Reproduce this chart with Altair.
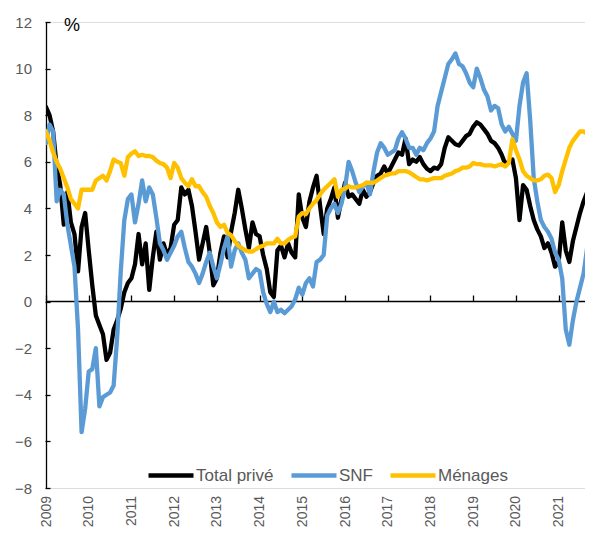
import altair as alt
import pandas as pd

# ---------------- data (monthly, Jan 2009 = month 0) ----------------
series_names = ["Total privé", "SNF", "Ménages"]
series_colors = ["#000000", "#5B9BD5", "#FFC000"]
year_ticks = list(range(2009, 2022))
y_ticks = list(range(-8, 13, 2))

total_prive = [
    8.35, 8.0, 7.3, 5.8, 5.0, 3.3, 4.7, 3.4, 2.9, 1.3, 3.2, 3.8,        # 2009
    2.2, 0.7, -0.6, -1.0, -1.4, -2.5, -2.2, -1.2, -0.8, -0.3, 0.4, 0.8,  # 2010
    1.0, 1.6, 2.9, 1.6, 2.5, 0.5, 1.9, 3.0, 1.8, 2.5, 2.0, 2.3,          # 2011
    3.3, 3.5, 4.9, 4.6, 4.8, 4.1, 3.0, 1.8, 2.5, 3.2, 2.1, 0.7,          # 2012
    1.0, 2.1, 2.8, 1.9, 3.0, 3.8, 4.8, 4.0, 3.1, 2.3, 3.4, 2.9,          # 2013
    2.8, 2.0, 1.4, 0.4, 0.2, 2.2, 2.4, 1.9, 2.5, 2.1, 1.9, 4.6,          # 2014
    3.6, 3.2, 4.3, 4.9, 5.4, 4.1, 2.9, 4.0, 4.4, 4.9, 3.6, 4.4,          # 2015
    5.1, 4.5, 4.6, 4.4, 4.2, 4.8, 4.5, 4.7, 5.1, 5.4, 5.5, 5.8,          # 2016
    5.5, 5.8, 6.1, 6.4, 6.3, 7.0, 5.9, 6.1, 6.0, 6.2, 5.9, 5.7,          # 2017
    5.6, 5.75, 5.7, 5.9, 6.6, 7.05, 6.9, 6.75, 6.7, 6.9, 7.1, 7.2,       # 2018
    7.5, 7.7, 7.6, 7.4, 7.2, 6.9, 6.8, 6.6, 6.3, 5.9, 6.0, 6.1,          # 2019
    5.3, 3.5, 5.0, 4.8, 4.1, 3.5, 3.1, 2.8, 2.3, 2.5, 2.1, 1.5,          # 2020
    1.7, 3.4, 2.2, 1.7, 2.6, 3.2, 3.8, 4.3, 4.7, 3.6,                    # 2021
]

snf = [
    6.8, 7.6, 7.3, 4.3, 4.8, 4.6, 3.3, 2.4, 1.5, -1.2, -5.6, -4.6,       # 2009
    -3.0, -2.9, -2.0, -4.5, -4.1, -4.0, -3.9, -3.6, -1.5, 1.3, 3.5, 4.4, # 2010
    4.6, 3.4, 4.2, 5.2, 4.3, 4.9, 4.6, 3.6, 2.5, 2.2, 1.8, 2.1,          # 2011
    2.4, 2.8, 3.0, 2.3, 1.7, 1.5, 1.2, 0.8, 1.2, 1.7, 2.1, 1.5,          # 2012
    1.0, 1.6, 2.3, 2.8, 1.5, 2.2, 2.5, 2.1, 1.8, 1.0, 1.2, 1.4,          # 2013
    1.3, 0.4, -0.1, -0.45, 0.0, -0.45, -0.35, -0.5, -0.35, -0.2, 0.1, 0.6,  # 2014
    0.3, 0.8, 1.0, 0.65, 1.7, 1.8, 2.0, 3.7, 4.0, 4.2, 3.8, 4.2,         # 2015
    4.9, 6.0, 5.6, 5.1, 4.7, 4.95, 5.1, 4.6, 5.6, 6.4, 6.8, 6.6,         # 2016
    6.3, 6.4, 6.5, 7.0, 7.27, 7.0, 6.6, 6.6, 6.3, 6.6, 6.5, 6.8,         # 2017
    7.0, 7.3, 8.4, 9.0, 9.6, 10.2, 10.4, 10.65, 10.2, 10.1, 9.8, 9.4,    # 2018
    9.2, 10.0, 9.6, 9.1, 8.8, 8.2, 8.4, 8.3, 7.6, 7.3, 7.5, 7.2,         # 2019
    6.9, 8.4, 9.4, 9.8, 7.8, 5.3, 4.3, 3.5, 3.2, 3.0, 2.7, 2.1,          # 2020
    1.8, 1.0, -1.2, -1.85, -0.8, 0.0, 0.6, 1.2, 2.3, 0.5,                # 2021
]

menages = [
    7.3, 6.9, 6.4, 6.0, 5.7, 5.3, 4.9, 4.4, 4.2, 4.0, 4.8, 4.8,          # 2009
    4.8, 4.8, 5.2, 5.3, 5.4, 5.2, 5.6, 6.1, 6.0, 5.95, 5.4, 6.2,         # 2010
    6.35, 6.45, 6.25, 6.3, 6.25, 6.25, 6.2, 6.05, 5.95, 5.9, 5.75, 5.3,  # 2011
    5.95, 5.75, 5.3, 5.1, 4.95, 5.25, 4.95, 4.95, 4.7, 4.5, 4.1, 3.8,    # 2012
    3.4, 3.2, 3.3, 2.95, 2.85, 2.6, 2.4, 2.3, 2.2, 2.15, 2.15, 2.25,     # 2013
    2.35, 2.4, 2.5, 2.5, 2.5, 2.7, 2.5, 2.5, 2.65, 2.75, 2.8, 3.65,      # 2014
    3.8, 3.75, 4.0, 4.2, 4.35, 4.6, 4.8, 4.95, 5.1, 5.25, 4.5, 4.8,      # 2015
    4.85, 4.95, 4.9, 4.9, 4.95, 5.0, 5.1, 5.1, 5.1, 5.2, 5.3, 5.4,       # 2016
    5.45, 5.5, 5.5, 5.6, 5.6, 5.6, 5.55, 5.45, 5.35, 5.25, 5.25, 5.2,    # 2017
    5.25, 5.3, 5.3, 5.3, 5.4, 5.45, 5.5, 5.6, 5.65, 5.75, 5.75, 5.8,     # 2018
    5.95, 5.9, 5.9, 5.85, 5.85, 5.85, 5.8, 5.85, 5.9, 5.8, 5.95, 6.97,   # 2019
    6.5, 6.1, 5.6, 5.4, 5.3, 5.2, 5.2, 5.25, 5.4, 5.45, 5.3, 4.7,        # 2020
    5.0, 5.6, 6.1, 6.6, 6.9, 7.1, 7.3, 7.3, 7.2, 7.1,                    # 2021
]

# ---------------- table ----------------
rows = []
for name, vals in zip(series_names, [total_prive, snf, menages]):
    for m, v in enumerate(vals):
        rows.append({"t": 2009 + m / 12.0, "v": v, "series": name})
df = pd.DataFrame(rows)

TOTAL_W, TOTAL_H = 577, 519
PLOT_W, PLOT_H = 540, 465          # expected plot size (for axis offsets)
x_dom = [2009, 2009 + 151.4 / 12.0]
y_dom = [-8, 12]
FONT = "Liberation Sans"
GREY = "#595959"

base = alt.Chart(df)

lines = base.mark_line(strokeWidth=4.3, strokeJoin="round", strokeCap="round", clip=True).encode(
    x=alt.X("t:Q",
            scale=alt.Scale(domain=x_dom, nice=False, zero=False),
            axis=alt.Axis(orient="bottom", values=year_ticks, format="d", labelAngle=270,
                          labelFontSize=14, labelColor=GREY, labelFont=FONT, labelPadding=7.5,
                          labelFlush=False, labelOverlap=False, ticks=False, tickSize=0,
                          domain=False, grid=False, title=None)),
    y=alt.Y("v:Q",
            scale=alt.Scale(domain=y_dom, nice=False, zero=False),
            axis=alt.Axis(orient="left", values=y_ticks, labelFontSize=15, labelColor=GREY,
                          labelFont=FONT, labelPadding=14.5, ticks=False, tickSize=0,
                          domain=True, domainColor="black", domainWidth=1.3, grid=False,
                          title="%", titleAngle=0, titleX=25.5, titleY=8, titleAlign="center",
                          titleBaseline="alphabetic", titleFontSize=18, titleFontWeight="normal",
                          titleColor="black", titleFont=FONT)),
    color=alt.Color("series:N",
                    scale=alt.Scale(domain=series_names, range=series_colors),
                    sort=series_names,
                    legend=alt.Legend(orient="none", legendX=100, legendY=428.5,
                                      direction="horizontal", title=None,
                                      symbolType="stroke", symbolSize=2025,
                                      symbolStrokeWidth=4.5, labelFontSize=17,
                                      labelColor=GREY, labelFont=FONT,
                                      columnPadding=8, labelOffset=0)),
)

tick_layer = base.mark_line(opacity=0, strokeOpacity=0, clip=True).encode(
    x=alt.X("t:Q",
            scale=alt.Scale(domain=x_dom, nice=False, zero=False),
            axis=alt.Axis(orient="top", offset=-(12 / 20) * PLOT_H, values=year_ticks,
                          labels=False, ticks=True, tickSize=6, tickColor="black",
                          tickWidth=1.3, domain=True, domainColor="black", domainWidth=1.5,
                          grid=False, title=None, minExtent=0)),
    y=alt.Y("v:Q",
            scale=alt.Scale(domain=y_dom, nice=False, zero=False),
            axis=alt.Axis(orient="right", offset=-PLOT_W, values=y_ticks, labels=False,
                          ticks=True, tickSize=5, tickColor="black", tickWidth=1.3,
                          domain=False, grid=False, title=None, minExtent=0)),
    detail="series:N",
)

chart = alt.layer(tick_layer, lines).resolve_scale(
    x="independent", y="independent"
).properties(
    width=TOTAL_W, height=TOTAL_H,
    autosize=alt.AutoSizeParams(type="fit", contains="padding"),
    padding={"left": 6, "top": 7, "right": 0, "bottom": 0},
    background="white",
).configure_view(stroke=None).configure(font=FONT)

chart.save("out.html", embed_options={"renderer": "svg", "actions": False})
